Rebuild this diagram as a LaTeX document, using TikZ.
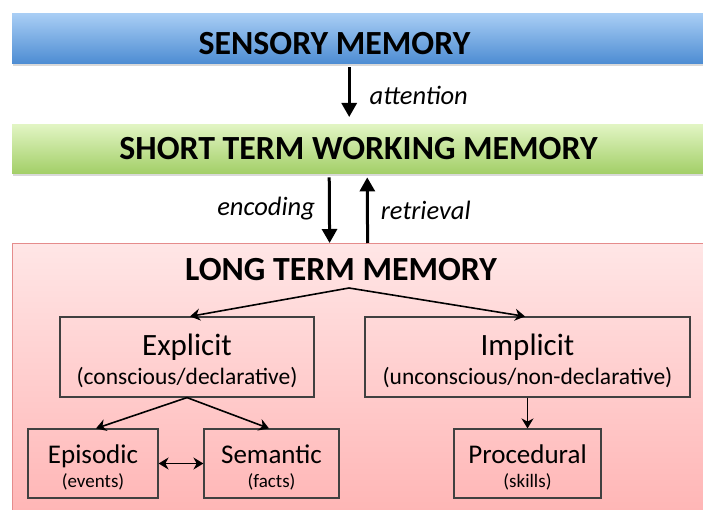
\documentclass[tikz,border=0pt]{standalone}
\usepackage{fontspec}
\setmainfont{Carlito}
\usetikzlibrary{arrows.meta,shadows}

\begin{document}
\begin{tikzpicture}[x=1pt,y=-1pt,
  bar/.style={minimum width=691,inner sep=0,anchor=north west},
  shadowed/.style={drop shadow={opacity=0.3,shadow xshift=1pt,shadow yshift=-3pt}},
  title/.style={font=\fontsize{33.8}{34}\selectfont\bfseries,anchor=base,inner sep=0},
  flow/.style={line width=3pt,-{Triangle[width=15pt,length=14pt]}},
  link/.style={line width=1.6pt,-{Stealth[width=12pt,length=10pt]}},
  lbl/.style={font=\fontsize{26.5}{27}\selectfont\itshape,inner sep=0},
  membox/.style={draw=black!75,line width=1.2pt,inner sep=0},
  boxtext/.style={anchor=base,inner sep=0}]
\definecolor{skytop}{HTML}{A9CEF5}
\definecolor{skybot}{HTML}{4E8DD3}
\definecolor{leaftop}{HTML}{E2F5C4}
\definecolor{leafbot}{HTML}{A3CF68}
\definecolor{rosetop}{HTML}{FFE6E6}
\definecolor{rosebot}{HTML}{FFB5B5}
\definecolor{roseline}{HTML}{E58C8C}
\useasboundingbox (0,0) rectangle (703,510);

% the three stores
\node[bar,shadowed,minimum height=50,top color=skytop,bottom color=skybot] (sensory) at (12,13) {};
\node[title] (sensory-t) at (334.5,55) {SENSORY MEMORY};
\node[bar,shadowed,minimum height=49,top color=leaftop,bottom color=leafbot] (stm) at (12,124) {};
\node[title] (stm-t) at (358.5,160) {SHORT TERM WORKING MEMORY};
\node[bar,minimum height=272,top color=rosetop,bottom color=rosebot,draw=roseline,line width=1.2pt] (ltm) at (12,243) {};
\node[title] (ltm-t) at (341,280) {LONG TERM MEMORY};
\coordinate (split) at (349,288);

% kinds of long term memory
\foreach \name/\x/\w/\head/\sub in {explicit/187/254/Explicit/conscious\slash declarative,
    implicit/527.5/325/Implicit/unconscious\slash non-declarative}
  {\node[membox,minimum width=\w,minimum height=80] (\name) at (\x,357) {};
   \node[boxtext,font=\fontsize{31}{31}\selectfont] (\name-h) at (\x,355) {\head};
   \node[boxtext,font=\fontsize{23.5}{24}\selectfont] (\name-s) at (\x,384) {(\sub)};}
\foreach \name/\x/\w/\head/\sub in {episodic/93/130/Episodic/events,
    semantic/271.5/135/Semantic/facts,procedural/527.5/147/Procedural/skills}
  {\node[membox,minimum width=\w,minimum height=69] (\name) at (\x,463.5) {};
   \node[boxtext,font=\fontsize{27}{27}\selectfont] (\name-h) at (\x,463) {\head};
   \node[boxtext,font=\fontsize{19}{19}\selectfont] (\name-s) at (\x,487) {(\sub)};}

% transfers between stores
\draw[flow,shorten <=4pt,shorten >=7pt] ([xshift=-8.5pt]sensory.south) --
  node[lbl,anchor=west,xshift=19pt,yshift=-2pt] (attention) {attention} ([xshift=-8.5pt]stm.north);
\draw[flow,shorten <=4pt] ([xshift=-28.5pt]stm.south) --
  node[lbl,anchor=east,xshift=-13pt] (encoding) {encoding} ([xshift=-28.5pt]ltm.north);
\draw[flow,shorten >=4pt] ([xshift=9.5pt]ltm.north) --
  node[lbl,anchor=west,xshift=12pt,yshift=-2pt] (retrieval) {retrieval} ([xshift=9.5pt]stm.south);

\draw[link] (split) -- ([xshift=3pt]explicit.north);
\draw[link] (split) -- ([xshift=-2.5pt]implicit.north);
\draw[link] (explicit.south) -- ([xshift=3pt]episodic.north);
\draw[link] (explicit.south) -- ([xshift=-2.5pt]semantic.north);
\draw[link] (implicit.south) -- (procedural.north);
\draw[link,{Stealth[width=12pt,length=10pt]}-{Stealth[width=12pt,length=10pt]}] (episodic.east) -- (semantic.west);
\end{tikzpicture}
\end{document}
